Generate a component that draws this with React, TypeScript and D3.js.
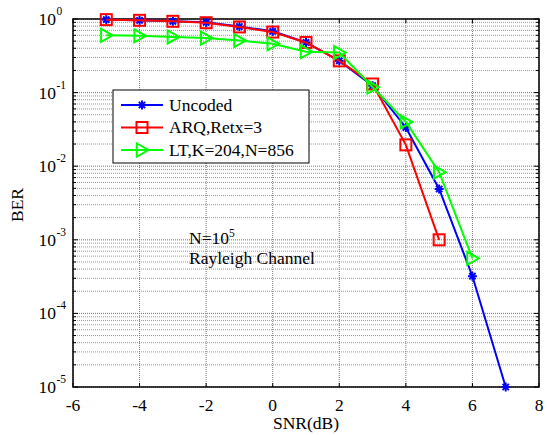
import React from "react";
import * as d3 from "d3";

const snrUncoded = [-5, -4, -3, -2, -1, 0, 1, 2, 3, 4, 5, 6, 7];
const berUncoded = [0.98, 0.96, 0.93, 0.9, 0.79, 0.68, 0.48, 0.27, 0.124, 0.0336, 0.0049, 0.00032, 0.00001];
const snrArq = [-5, -4, -3, -2, -1, 0, 1, 2, 3, 4, 5];
const berArq = [0.98, 0.96, 0.93, 0.89, 0.78, 0.665, 0.48, 0.27, 0.131, 0.0195, 0.001];
const snrLt = [-5, -4, -3, -2, -1, 0, 1, 2, 3, 4, 5, 6];
const berLt = [0.6, 0.59, 0.57, 0.55, 0.51, 0.46, 0.36, 0.35, 0.119, 0.04, 0.0083, 0.00056];
const xTicks = [-6, -4, -2, 0, 2, 4, 6, 8];
const yExps = [0, -1, -2, -3, -4, -5];
const seriesNames = ["Uncoded", "ARQ,Retx=3", "LT,K=204,N=856"];
const seriesColors = ["#0000ff", "#ff0000", "#00ff00"];
const annot1 = "N=10";
const annot1Sup = "5";
const annot2 = "Rayleigh Channel";

const W = 547, H = 435;
const L = 73, R = 539, T = 19, B = 387;
const FONT = "'Liberation Serif', 'Times New Roman', serif";
const FS = 17.5;
const SUP = 11.5;

function Marker({ kind, x, y, color }: { kind: number; x: number; y: number; color: string }) {
  if (kind === 0) {
    const s = 4.5;
    return (
      <g stroke={color} strokeWidth={2}>
        <line x1={x - s} y1={y} x2={x + s} y2={y} />
        <line x1={x} y1={y - s} x2={x} y2={y + s} />
        <line x1={x - s * 0.7} y1={y - s * 0.7} x2={x + s * 0.7} y2={y + s * 0.7} />
        <line x1={x - s * 0.7} y1={y + s * 0.7} x2={x + s * 0.7} y2={y - s * 0.7} />
      </g>
    );
  }
  if (kind === 1) {
    const s = 5.5;
    return <rect x={x - s} y={y - s} width={2 * s} height={2 * s} fill="none" stroke={color} strokeWidth={2} />;
  }
  const s = 6.5;
  return (
    <polygon
      points={`${x - s * 0.8},${y - s} ${x + s},${y} ${x - s * 0.8},${y + s}`}
      fill="none"
      stroke={color}
      strokeWidth={2}
    />
  );
}

export default function App() {
  const x = d3.scaleLinear().domain([-6, 8]).range([L, R]);
  const y = d3.scaleLog().domain([1e-5, 1]).range([B, T]);

  const series = [
    { xs: snrUncoded, ys: berUncoded },
    { xs: snrArq, ys: berArq },
    { xs: snrLt, ys: berLt },
  ];
  const line = d3
    .line<[number, number]>()
    .x((d) => x(d[0]))
    .y((d) => y(d[1]));

  const minorY: number[] = [];
  for (let e = -5; e < 0; e++) {
    for (let m = 2; m <= 9; m++) minorY.push(m * Math.pow(10, e));
  }

  return (
    <svg width={W} height={H} style={{ position: "absolute", left: 0, top: 0, background: "#fff", fontFamily: FONT }}>
      <rect x={0} y={0} width={W} height={H} fill="#fff" />
      {/* grid */}
      {minorY.map((v, i) => (
        <line key={"gm" + i} x1={L} x2={R} y1={y(v)} y2={y(v)} stroke="#999" strokeWidth={1} strokeDasharray="1,1" />
      ))}
      {yExps.map((e) => (
        <line key={"gy" + e} x1={L} x2={R} y1={y(Math.pow(10, e))} y2={y(Math.pow(10, e))} stroke="#777" strokeWidth={1} strokeDasharray="1,1" />
      ))}
      {xTicks.map((t) => (
        <line key={"gx" + t} x1={x(t)} x2={x(t)} y1={T} y2={B} stroke="#777" strokeWidth={1} strokeDasharray="1,1" />
      ))}
      {/* ticks */}
      {xTicks.map((t) => (
        <g key={"tx" + t}>
          <line x1={x(t)} x2={x(t)} y1={B} y2={B - 4} stroke="#000" />
          <line x1={x(t)} x2={x(t)} y1={T} y2={T + 4} stroke="#000" />
          <text x={x(t)} y={411} fontSize={FS} textAnchor="middle">{t}</text>
        </g>
      ))}
      {minorY.map((v, i) => (
        <g key={"tm" + i}>
          <line x1={L} x2={L + 3} y1={y(v)} y2={y(v)} stroke="#000" />
          <line x1={R} x2={R - 3} y1={y(v)} y2={y(v)} stroke="#000" />
        </g>
      ))}
      {yExps.map((e) => (
        <g key={"ty" + e}>
          <line x1={L} x2={L + 5} y1={y(Math.pow(10, e))} y2={y(Math.pow(10, e))} stroke="#000" />
          <line x1={R} x2={R - 5} y1={y(Math.pow(10, e))} y2={y(Math.pow(10, e))} stroke="#000" />
          <text x={56} y={y(Math.pow(10, e)) + 6} fontSize={FS} textAnchor="end">10</text>
          <text x={56.5} y={y(Math.pow(10, e)) - 4} fontSize={SUP} textAnchor="start">{e}</text>
        </g>
      ))}
      <rect x={L} y={T} width={R - L} height={B - T} fill="none" stroke="#000" strokeWidth={1.5} />
      {/* data */}
      {series.map((s, k) => {
        const pts = s.xs.map((v, i) => [v, s.ys[i]] as [number, number]);
        return (
          <g key={"s" + k}>
            <path d={line(pts) || ""} fill="none" stroke={seriesColors[k]} strokeWidth={2} />
            {pts.map((p, i) => (
              <Marker key={i} kind={k} x={x(p[0])} y={y(p[1])} color={seriesColors[k]} />
            ))}
          </g>
        );
      })}
      {/* annotation */}
      <text x={189} y={244} fontSize={FS}>
        {annot1}
        <tspan dy={-7} fontSize={SUP}>{annot1Sup}</tspan>
      </text>
      <text x={189} y={264} fontSize={FS}>{annot2}</text>
      {/* legend */}
      <rect x={113} y={90} width={196} height={73} fill="#fff" stroke="#000" strokeWidth={1} />
      {seriesNames.map((n, k) => {
        const cy = 105 + k * 22.5;
        return (
          <g key={"lg" + k}>
            <line x1={121} x2={163} y1={cy} y2={cy} stroke={seriesColors[k]} strokeWidth={2} />
            <Marker kind={k} x={142} y={cy} color={seriesColors[k]} />
            <text x={169} y={cy + 5.5} fontSize={FS}>{n}</text>
          </g>
        );
      })}
      {/* axis titles */}
      <text x={(L + R) / 2} y={429} fontSize={FS} textAnchor="middle">SNR(dB)</text>
      <text transform={`translate(23,205) rotate(-90)`} fontSize={FS} textAnchor="middle">BER</text>
    </svg>
  );
}
